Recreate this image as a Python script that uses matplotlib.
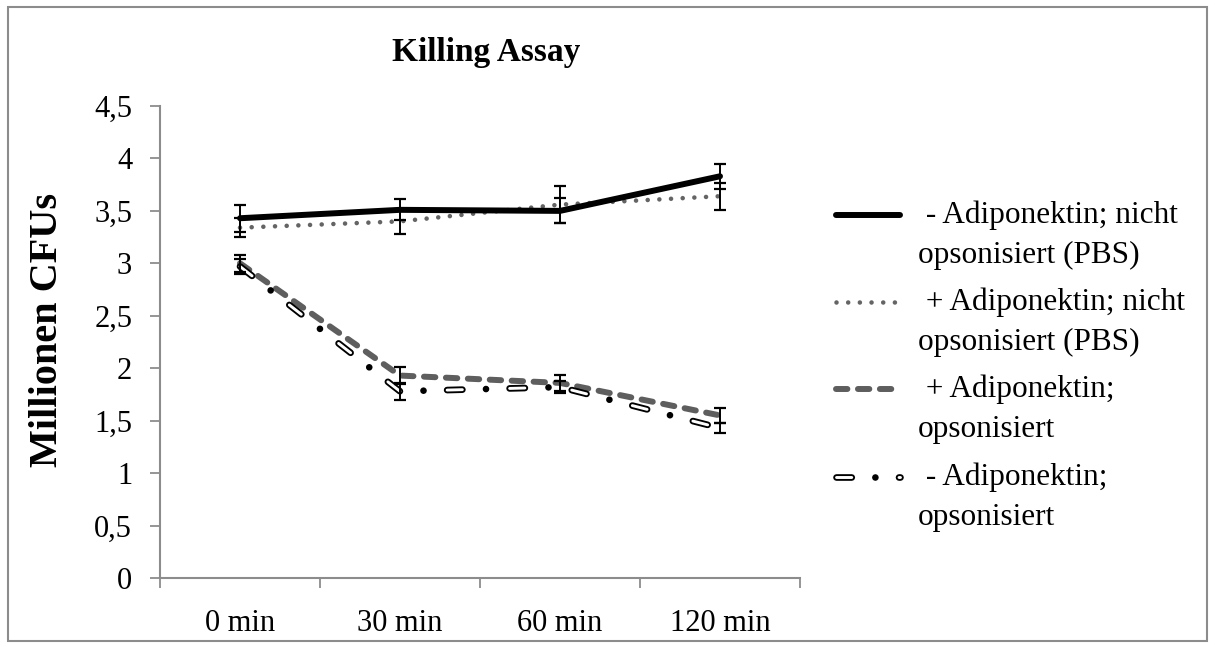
import numpy as np
import matplotlib
matplotlib.use("Agg")
import matplotlib.pyplot as plt
from matplotlib.patches import Rectangle

plt.rcParams['font.family'] = ['Liberation Serif', 'DejaVu Serif']
plt.rcParams['lines.scale_dashes'] = False

# data (Millionen CFUs)
times = ['0 min', '30 min', '60 min', '120 min']
minus_pbs = [3.43, 3.51, 3.50, 3.83]
minus_pbs_err = [0.13, 0.10, 0.12, 0.12]
plus_pbs = [3.34, 3.40, 3.56, 3.64]
plus_pbs_err = [0.09, 0.12, 0.18, 0.13]
plus_ops = [3.00, 1.93, 1.86, 1.55]
plus_ops_err = [0.08, 0.08, 0.08, 0.07]
minus_ops = [2.97, 1.78, 1.82, 1.43]
minus_ops_err = [0.07, 0.08, 0.06, 0.05]

yticks = [0, 0.5, 1, 1.5, 2, 2.5, 3, 3.5, 4, 4.5]
ytick_labels = ['0', '0,5', '1', '1,5', '2', '2,5', '3', '3,5', '4', '4,5']

labels = [(' - Adiponektin; nicht', 'opsonisiert (PBS)'),
          (' + Adiponektin; nicht', 'opsonisiert (PBS)'),
          (' + Adiponektin;', 'opsonisiert'),
          (' - Adiponektin;', 'opsonisiert')]

W, H = 1215, 648
fig = plt.figure(figsize=(W / 100, H / 100), dpi=100)
fig.add_artist(Rectangle((8 / W, 1 - 641 / H), 1199 / W, 634 / H, transform=fig.transFigure,
                         fill=False, edgecolor='#8c8c8c', linewidth=1.5))

ax = fig.add_axes([160 / W, 1 - 578 / H, 640 / W, 472 / H])
x = np.arange(len(times))

solid = dict(color='black', lw=4.3, solid_capstyle='round')
dotted = dict(color='#646464', lw=3.3, dashes=(0.01, 8.4), dash_capstyle='round')
dashed = dict(color='#5e5e5e', lw=4.3, dashes=(8.2, 7.6), dash_capstyle='round')
hollow_out = dict(color='black', lw=4.8, dashes=(11, 17, 0.01, 17), dash_capstyle='round')
hollow_in = dict(color='white', lw=2.1, dashes=(11, 34.01), dash_capstyle='round')

ax.plot(x, minus_pbs, zorder=4, **solid)
ax.plot(x, plus_pbs, zorder=3, **dotted)
ax.plot(x, plus_ops, zorder=3, **dashed)
ax.plot(x, minus_ops, zorder=4, **hollow_out)
ax.plot(x, minus_ops, zorder=4, **hollow_in)

for vals, errs in [(minus_pbs, minus_pbs_err), (plus_pbs, plus_pbs_err),
                   (plus_ops, plus_ops_err), (minus_ops, minus_ops_err)]:
    ax.errorbar(x, vals, yerr=errs, fmt='none', ecolor='black', elinewidth=1.4,
                capsize=4.2, capthick=1.6, zorder=5)

ax.set_xlim(-0.5, 3.5)
ax.set_ylim(0, 4.5)
ax.set_yticks(yticks)
ax.set_yticklabels(ytick_labels, fontsize=22)
ax.set_xticks(x)
ax.set_xticklabels(times, fontsize=22)
ax.set_xticks(np.arange(-0.5, 4, 1), minor=True)
ax.tick_params(axis='x', which='major', length=0, pad=22)
ax.tick_params(axis='x', which='minor', length=7, width=1.3, color='#8c8c8c')
ax.tick_params(axis='y', length=7, width=1.3, color='#8c8c8c', pad=13)
for s in ['top', 'right']:
    ax.spines[s].set_visible(False)
for s in ['left', 'bottom']:
    ax.spines[s].set_color('#8c8c8c')
    ax.spines[s].set_linewidth(1.5)

fig.text(486 / W, 1 - 52 / H, 'Killing Assay', fontsize=24, fontweight='bold',
         ha='center', va='center')
fig.text(48 / W, 1 - 330 / H, 'Millionen CFUs', fontsize=29, fontweight='bold',
         rotation=90, ha='center', va='center')

# legend drawn by hand (handles aligned with first label line)
styles = [[solid], [dotted], [dashed], [hollow_out, hollow_in]]
key_y = [215, 302, 389, 477]
for (l1, l2), sty, ky in zip(labels, styles, key_y):
    yf = 1 - ky / H
    for st in sty:
        fig.add_artist(plt.Line2D([836 / W, 900 / W], [yf, yf], transform=fig.transFigure, **st))
    fig.text(918 / W, yf, l1, fontsize=22.5, ha='left', va='center')
    fig.text(918 / W, 1 - (ky + 40) / H, l2, fontsize=22.5, ha='left', va='center')

fig.savefig('out.png', dpi=100)
